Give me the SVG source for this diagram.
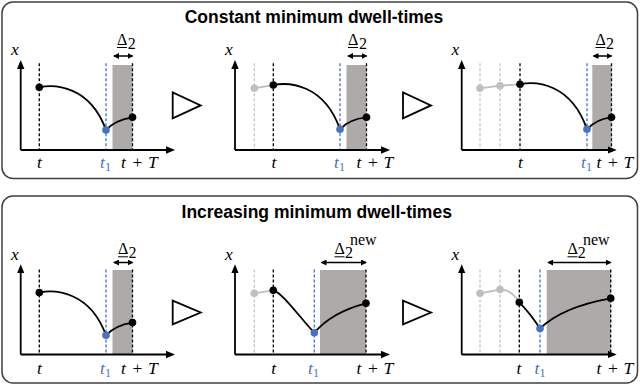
<svg xmlns="http://www.w3.org/2000/svg" width="640" height="386" viewBox="0 0 640 386">
<defs>
<marker id="ah" markerUnits="userSpaceOnUse" viewBox="0 0 9 8" markerWidth="9" markerHeight="8" refX="5" refY="4" orient="auto"><path d="M0,0.3 L9,4 L0,7.7 z" fill="#000"/></marker>
<marker id="dh" markerUnits="userSpaceOnUse" viewBox="0 0 6 6" markerWidth="6" markerHeight="6" refX="5" refY="3" orient="auto-start-reverse"><path d="M0,0 L6,3 L0,6 z" fill="#000"/></marker>
</defs>
<style>
.panel{fill:#fff;stroke:#404040;stroke-width:1.5}
.title{font-family:"Liberation Sans",Arial,sans-serif;font-weight:bold;font-size:17.5px;text-anchor:middle;fill:#000}
.axis{stroke:#000;stroke-width:1.8;fill:none;marker-end:url(#ah)}
.dk{stroke:#000;stroke-width:1.3;stroke-dasharray:3 2}
.bl{stroke:#4472C4;stroke-width:1.3;stroke-dasharray:3 2}
.gr{stroke:#BFBFBF;stroke-width:1.2;stroke-dasharray:3 2}
.shade{fill:#AEAAAA}
.curve{fill:none;stroke:#000;stroke-width:1.8}
.gcurve{fill:none;stroke:#BFBFBF;stroke-width:1.8}
.pk{fill:#000}.pb{fill:#4472C4}.pg{fill:#BFBFBF}
.m{font-family:"Liberation Serif","Times New Roman",serif;font-style:italic;font-size:17.5px;fill:#000}
.up{font-style:normal}
.sub{font-size:12px;font-style:normal}
.blue{fill:#4472C4}
.dl{stroke:#000;stroke-width:1.5;marker-start:url(#dh);marker-end:url(#dh)}
.ul{stroke:#000;stroke-width:1}
.dlt{font-family:"Liberation Serif","Times New Roman",serif;font-size:16px;fill:#000}
.tri{fill:#fff;stroke:#000;stroke-width:1.8}
</style>

<g id="panel-constant">
<rect class="panel" x="2" y="2" width="635.5" height="176.5" rx="11"/>
<text class="title" x="314" y="22.5">Constant minimum dwell-times</text>
</g>

<g id="panel-increasing">
<rect class="panel" x="2" y="196" width="635.5" height="187" rx="11"/>
<text class="title" x="316.7" y="218">Increasing minimum dwell-times</text>
</g>

<!-- Top plot 1 -->
<g id="plot-c1">
<rect class="shade" x="112.5" y="65" width="20" height="85"/>
<line class="dk" x1="39.3" y1="63.3" x2="39.3" y2="150"/>
<line class="bl" x1="106" y1="63.3" x2="106" y2="150"/>
<line class="dk" x1="132.5" y1="63.3" x2="132.5" y2="150"/>
<line class="axis" x1="20.7" y1="150" x2="20.7" y2="64"/>
<line class="axis" x1="20.7" y1="150" x2="171" y2="150"/>
<path class="curve" d="M39.3,87.3 C55,84 90,86 106,130 Q115,120 132.5,117.3"/>
<circle class="pk" cx="39.3" cy="87.3" r="3.8"/>
<circle class="pb" cx="106" cy="130" r="3.8"/>
<circle class="pk" cx="132.5" cy="117.3" r="3.8"/>
<text class="m" x="11" y="54.5">x</text>
<line class="dl" x1="114" y1="56" x2="132.5" y2="56"/>
<text class="dlt" x="117" y="45">Δ</text>
<line class="ul" x1="117" y1="47.5" x2="127" y2="47.5"/>
<text class="dlt sub" x="127.7" y="48.5">2</text>
<text class="m" x="39.5" y="168" text-anchor="middle">t</text>
<text class="m blue" x="100" y="168">t<tspan class="sub" dy="3">1</tspan></text>
<text class="m" y="168"><tspan x="121">t</tspan> <tspan class="up" x="132.5">+</tspan> <tspan x="148">T</tspan></text>
</g>

<!-- Top plot 2 -->
<g id="plot-c2">
<rect class="shade" x="346.5" y="65" width="20" height="85"/>
<line class="gr" x1="254.3" y1="63.3" x2="254.3" y2="150"/>
<line class="dk" x1="273.3" y1="63.3" x2="273.3" y2="150"/>
<line class="bl" x1="340" y1="63.3" x2="340" y2="150"/>
<line class="dk" x1="366.5" y1="63.3" x2="366.5" y2="150"/>
<line class="axis" x1="235" y1="150" x2="235" y2="64"/>
<line class="axis" x1="235" y1="150" x2="386" y2="150"/>
<path class="gcurve" d="M254.3,88.3 L273.3,85"/>
<path class="curve" d="M273.3,85 C289,82 324,84 340,129.3 Q349,119 366.5,117.3"/>
<circle class="pg" cx="254.3" cy="88.3" r="3.8"/>
<circle class="pk" cx="273.3" cy="85" r="3.8"/>
<circle class="pb" cx="340" cy="129.3" r="3.8"/>
<circle class="pk" cx="366.5" cy="117.3" r="3.8"/>
<text class="m" x="225" y="54.5">x</text>
<line class="dl" x1="348" y1="56" x2="366.5" y2="56"/>
<text class="dlt" x="348" y="45">Δ</text>
<line class="ul" x1="348" y1="47.5" x2="358" y2="47.5"/>
<text class="dlt sub" x="359" y="48.5">2</text>
<text class="m" x="274" y="168" text-anchor="middle">t</text>
<text class="m blue" x="334" y="168">t<tspan class="sub" dy="3">1</tspan></text>
<text class="m" y="168"><tspan x="356.5">t</tspan> <tspan class="up" x="368">+</tspan> <tspan x="383.5">T</tspan></text>
</g>

<!-- Top plot 3 -->
<g id="plot-c3">
<rect class="shade" x="592.3" y="65" width="19.2" height="85"/>
<line class="gr" x1="480" y1="63.3" x2="480" y2="150"/>
<line class="gr" x1="500" y1="63.3" x2="500" y2="150"/>
<line class="dk" x1="520" y1="63.3" x2="520" y2="150"/>
<line class="bl" x1="587" y1="63.3" x2="587" y2="150"/>
<line class="dk" x1="611.5" y1="63.3" x2="611.5" y2="150"/>
<line class="axis" x1="461.7" y1="150" x2="461.7" y2="64"/>
<line class="axis" x1="461.7" y1="150" x2="612.7" y2="150"/>
<path class="gcurve" d="M480,88.3 L500,85.7 L520,84.3"/>
<path class="curve" d="M520,84.3 C536,81 571,83 587,129.3 Q596,119 611.5,117.3"/>
<circle class="pg" cx="480" cy="88.3" r="3.8"/>
<circle class="pg" cx="500" cy="85.7" r="3.8"/>
<circle class="pk" cx="520" cy="84.3" r="3.8"/>
<circle class="pb" cx="587" cy="129.3" r="3.8"/>
<circle class="pk" cx="611.5" cy="117.3" r="3.8"/>
<text class="m" x="451.5" y="54.5">x</text>
<line class="dl" x1="593.5" y1="56" x2="611.5" y2="56"/>
<text class="dlt" x="595.5" y="45">Δ</text>
<line class="ul" x1="595.5" y1="47.5" x2="605.5" y2="47.5"/>
<text class="dlt sub" x="606" y="48.5">2</text>
<text class="m" x="520.5" y="168" text-anchor="middle">t</text>
<text class="m blue" x="581" y="168">t<tspan class="sub" dy="3">1</tspan></text>
<text class="m" y="168"><tspan x="596.5">t</tspan> <tspan class="up" x="608">+</tspan> <tspan x="623.5">T</tspan></text>
</g>

<!-- Bottom plot 1 -->
<g id="plot-i1">
<rect class="shade" x="112.5" y="270" width="20" height="84.5"/>
<line class="dk" x1="39.3" y1="269.5" x2="39.3" y2="354.5"/>
<line class="bl" x1="106" y1="269.5" x2="106" y2="354.5"/>
<line class="dk" x1="132.5" y1="269.5" x2="132.5" y2="354.5"/>
<line class="axis" x1="20.7" y1="354.5" x2="20.7" y2="268.3"/>
<line class="axis" x1="20.7" y1="354.5" x2="171" y2="354.5"/>
<path class="curve" d="M39.3,292.6 C55,289.3 90,291.3 106,335.3 Q115,325.3 132.5,322.6"/>
<circle class="pk" cx="39.3" cy="292.6" r="3.8"/>
<circle class="pb" cx="106" cy="335.3" r="3.8"/>
<circle class="pk" cx="132.5" cy="322.6" r="3.8"/>
<text class="m" x="11" y="260">x</text>
<line class="dl" x1="114" y1="262.5" x2="132.5" y2="262.5"/>
<text class="dlt" x="118" y="254.3">Δ</text>
<line class="ul" x1="118" y1="256.8" x2="128" y2="256.8"/>
<text class="dlt sub" x="128.5" y="257.8">2</text>
<text class="m" x="39.5" y="373.5" text-anchor="middle">t</text>
<text class="m blue" x="100" y="373.5">t<tspan class="sub" dy="3">1</tspan></text>
<text class="m" y="373.5"><tspan x="121">t</tspan> <tspan class="up" x="132.5">+</tspan> <tspan x="148">T</tspan></text>
</g>

<!-- Bottom plot 2 -->
<g id="plot-i2">
<rect class="shade" x="320" y="270" width="46" height="84.5"/>
<line class="gr" x1="254.3" y1="269.5" x2="254.3" y2="354.5"/>
<line class="dk" x1="273.3" y1="269.5" x2="273.3" y2="354.5"/>
<line class="bl" x1="314.3" y1="269.5" x2="314.3" y2="354.5"/>
<line class="dk" x1="366" y1="269.5" x2="366" y2="354.5"/>
<line class="axis" x1="235" y1="354.5" x2="235" y2="268.3"/>
<line class="axis" x1="235" y1="354.5" x2="386" y2="354.5"/>
<path class="gcurve" d="M254.3,293.3 L273.3,290.3"/>
<path class="curve" d="M273.3,290.3 C283,293 300,318 314.3,332.7 Q332,312 366,303.3"/>
<circle class="pg" cx="254.3" cy="293.3" r="3.8"/>
<circle class="pk" cx="273.3" cy="290.3" r="3.8"/>
<circle class="pb" cx="314.3" cy="332.7" r="3.8"/>
<circle class="pk" cx="366" cy="303.3" r="3.8"/>
<text class="m" x="225" y="260">x</text>
<line class="dl" x1="321.5" y1="262.5" x2="366" y2="262.5"/>
<text class="dlt" x="334.5" y="254.3">Δ</text>
<line class="ul" x1="334.5" y1="256.8" x2="344.5" y2="256.8"/>
<text class="dlt sub" x="345" y="257.8">2</text>
<text class="dlt sub" x="350" y="244.5">new</text>
<text class="m" x="273.8" y="373.5" text-anchor="middle">t</text>
<text class="m blue" x="308" y="373.5">t<tspan class="sub" dy="3">1</tspan></text>
<text class="m" y="373.5"><tspan x="356.5">t</tspan> <tspan class="up" x="368">+</tspan> <tspan x="383.5">T</tspan></text>
</g>

<!-- Bottom plot 3 -->
<g id="plot-i3">
<rect class="shade" x="546.7" y="270" width="64" height="84.5"/>
<line class="gr" x1="480" y1="269.5" x2="480" y2="354.5"/>
<line class="gr" x1="500" y1="269.5" x2="500" y2="354.5"/>
<line class="dk" x1="519.3" y1="269.5" x2="519.3" y2="354.5"/>
<line class="bl" x1="540" y1="269.5" x2="540" y2="354.5"/>
<line class="dk" x1="610.7" y1="269.5" x2="610.7" y2="354.5"/>
<line class="axis" x1="461.7" y1="354.5" x2="461.7" y2="268.3"/>
<line class="axis" x1="461.7" y1="354.5" x2="612.7" y2="354.5"/>
<path class="gcurve" d="M480,293.3 L500,289.5 Q511,289 519.3,302.3"/>
<path class="curve" d="M519.3,302.3 Q530,313 540,328.5 Q562,307 610.7,298.3"/>
<circle class="pg" cx="480" cy="293.3" r="3.8"/>
<circle class="pg" cx="500" cy="289.5" r="3.8"/>
<circle class="pk" cx="519.3" cy="302.3" r="3.8"/>
<circle class="pb" cx="540" cy="328.5" r="3.8"/>
<circle class="pk" cx="610.7" cy="298.3" r="3.8"/>
<text class="m" x="451.5" y="260">x</text>
<line class="dl" x1="548.2" y1="262.5" x2="610.7" y2="262.5"/>
<text class="dlt" x="567.5" y="254.3">Δ</text>
<line class="ul" x1="567.5" y1="256.8" x2="577.5" y2="256.8"/>
<text class="dlt sub" x="577.7" y="257.8">2</text>
<text class="dlt sub" x="583" y="244.5">new</text>
<text class="m" x="519" y="373.5" text-anchor="middle">t</text>
<text class="m blue" x="534.5" y="373.5">t<tspan class="sub" dy="3">1</tspan></text>
<text class="m" y="373.5"><tspan x="596.5">t</tspan> <tspan class="up" x="608">+</tspan> <tspan x="623.5">T</tspan></text>
</g>

<g id="connectors">
<polygon class="tri" points="172.7,92.5 172.7,118.3 200.7,105.4"/>
<polygon class="tri" points="403,92.5 403,118.3 431,105.4"/>
<polygon class="tri" points="172.7,300.7 172.7,324.3 200.7,312.5"/>
<polygon class="tri" points="403,300.7 403,324.3 431,312.5"/>
</g>
</svg>
